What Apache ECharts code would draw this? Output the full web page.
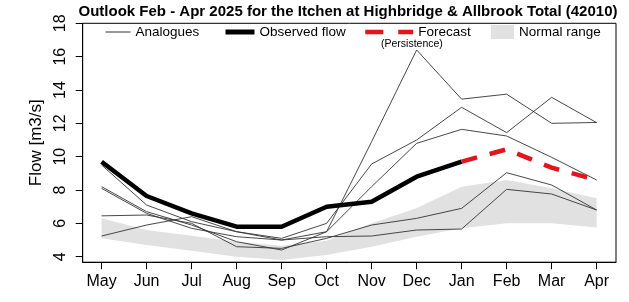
<!DOCTYPE html>
<html>
<head>
<meta charset="utf-8">
<script src="https://cdn.jsdelivr.net/npm/echarts@6/dist/echarts.min.js"></script>
<style>
  html, body { margin: 0; padding: 0; background: #fff; }
  #chart { width: 629px; height: 302px; }
</style>
</head>
<body>
<div id="chart"></div>
<script>
// Outlook Feb - Apr 2025, Itchen at Highbridge & Allbrook Total (42010)
const months = ['May', 'Jun', 'Jul', 'Aug', 'Sep', 'Oct', 'Nov', 'Dec', 'Jan', 'Feb', 'Mar', 'Apr'];
const yTicks = [4, 6, 8, 10, 12, 14, 16, 18];

// observed May..Jan, forecast Jan..Apr
const observed = [9.7, 7.64, 6.6, 5.8, 5.8, 7.0, 7.3, 8.8, 9.7];
const forecast = [9.7, 10.44, 9.34, 8.6];

const normalLow = [5.1, 4.7, 4.35, 4.0, 3.8, 4.1, 4.6, 5.2, 5.7, 6.0, 6.0, 5.75];
const normalHigh = [6.3, 5.6, 5.25, 4.9, 4.65, 4.95, 6.0, 6.9, 8.2, 8.6, 8.1, 7.5];

const analogue1 = [8.2, 6.7, 5.9, 4.9, 4.4, 5.5, 10.9, 16.4, 13.45, 13.75, 12.0, 12.05];
const analogue2 = [9.5, 7.1, 6.1, 5.5, 5.1, 6.0, 9.56, 11.0, 12.96, 11.44, 13.56, 12.04];
const analogue3 = [8.1, 6.6, 5.7, 5.2, 5.0, 5.5, 8.2, 10.8, 11.64, 11.24, 9.96, 8.6];
const analogue4 = [6.45, 6.5, 6.0, 4.6, 4.5, 5.1, 5.9, 6.3, 6.9, 9.04, 8.3, 6.8];
const analogue5 = [5.24, 5.9, 6.4, 5.5, 5.0, 5.2, 5.24, 5.6, 5.66, 8.04, 7.76, 6.8];

const FONT = 'Liberation Sans';
const BAND = '#e1e1e1';
const chart = echarts.init(document.getElementById('chart'));

const pairs = (arr, offset = 0) => arr.map((v, i) => [i + offset, v]);

const analogueSeries = [analogue1, analogue2, analogue3, analogue4, analogue5].map(a => ({
    name: 'Analogues', type: 'line', data: pairs(a), symbol: 'none',
    lineStyle: { color: '#333', width: 0.9 }, color: '#333', z: 3, silent: true
}));

// band polygon: upper edge left->right, lower edge right->left
function renderBand(params, api) {
    const pts = normalHigh.map((v, i) => api.coord([i, v]))
        .concat(normalLow.map((v, i) => api.coord([i, v])).reverse());
    return {
        type: 'polygon',
        shape: { points: pts },
        style: { fill: BAND },
        silent: true
    };
}

const legendBase = {
    top: 25, padding: 0, itemHeight: 14, selectedMode: false,
    itemStyle: { opacity: 0 },
    textStyle: { fontFamily: FONT, fontSize: 13.5, color: '#000' }
};

chart.setOption({
    animation: false,
    backgroundColor: '#fff',
    title: {
        text: 'Outlook Feb - Apr 2025 for the Itchen at Highbridge & Allbrook Total (42010)',
        left: 348, textAlign: 'center', top: 4, padding: 0,
        textStyle: { fontFamily: FONT, fontSize: 15, fontWeight: 'bold', color: '#000' }
    },
    legend: [
        Object.assign({}, legendBase, { left: 105, itemWidth: 25, data: ['Analogues'],
            lineStyle: { width: 1, color: '#333' } }),
        Object.assign({}, legendBase, { left: 223, itemWidth: 29, data: ['Observed flow'],
            lineStyle: { width: 5, color: '#000' } }),
        Object.assign({}, legendBase, { left: 363, itemWidth: 48, data: ['Forecast'],
            lineStyle: { width: 4.5, color: '#e3151b', type: [18, 15] } }),
        Object.assign({}, legendBase, { left: 491, itemWidth: 23, itemHeight: 14,
            itemStyle: { color: BAND },
            data: [{ name: 'Normal range', icon: 'rect' }] })
    ],
    graphic: [{
        type: 'text', left: 381, top: 39,
        style: { text: '(Persistence)', fontFamily: FONT, fontSize: 10.5, fill: '#000' }
    }],
    grid: {
        left: 82.7, right: 13, top: 23.3, bottom: 39.8,
        show: true, borderColor: '#000', borderWidth: 1, backgroundColor: 'transparent'
    },
    xAxis: {
        type: 'value', min: -0.42, max: 11.43,
        axisLine: { show: true, onZero: false, lineStyle: { color: '#000', width: 1 } },
        splitLine: { show: false },
        axisTick: { show: true, customValues: months.map((m, i) => i), length: 7,
            lineStyle: { color: '#000', width: 1 } },
        axisLabel: { customValues: months.map((m, i) => i), formatter: v => months[v],
            margin: 11, fontFamily: FONT, fontSize: 16, color: '#000' }
    },
    yAxis: {
        type: 'value', min: 3.67, max: 18.0,
        name: 'Flow [m3/s]', nameLocation: 'middle', nameGap: 37, nameRotate: 90,
        nameTextStyle: { fontFamily: FONT, fontSize: 17, color: '#000' },
        axisLine: { show: true, onZero: false, lineStyle: { color: '#000', width: 1 } },
        splitLine: { show: false },
        axisTick: { show: true, customValues: yTicks, length: 7,
            lineStyle: { color: '#000', width: 1 } },
        axisLabel: { customValues: yTicks, rotate: 90, margin: 14,
            fontFamily: FONT, fontSize: 16, color: '#000' }
    },
    series: [
        {
            name: 'Normal range', type: 'custom', renderItem: renderBand,
            data: [[0, normalLow[0]]], color: BAND, itemStyle: { color: BAND },
            clip: true, silent: true, z: 1
        },
        ...analogueSeries,
        {
            name: 'Observed flow', type: 'line', data: pairs(observed), symbol: 'none',
            color: '#000', lineStyle: { color: '#000', width: 4.5 }, z: 5
        },
        {
            name: 'Forecast', type: 'line', data: pairs(forecast, 8), symbol: 'none',
            color: '#e3151b', lineStyle: { color: '#e3151b', width: 4.5, type: [16, 13] }, z: 5
        }
    ]
});
</script>
</body>
</html>
